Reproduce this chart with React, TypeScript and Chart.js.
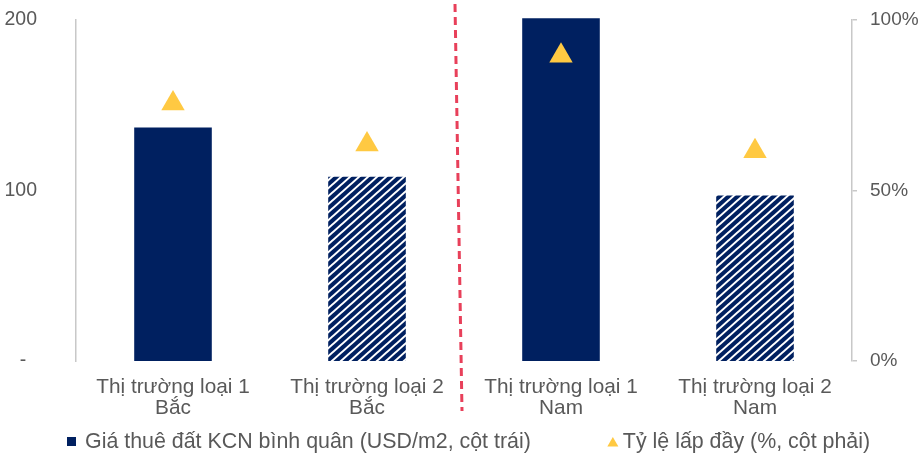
import React, { useEffect, useRef } from "react";
import { Chart, registerables } from "chart.js";

Chart.register(...registerables);

const categories: string[][] = [
  ["Thị trường loại 1", "Bắc"],
  ["Thị trường loại 2", "Bắc"],
  ["Thị trường loại 1", "Nam"],
  ["Thị trường loại 2", "Nam"],
];
const rentValues: number[] = [137, 108, 201, 97];
const occupancyValues: number[] = [0.755, 0.635, 0.895, 0.615];
const hatched: boolean[] = [false, true, false, true];
const rentLabel = "Giá thuê đất KCN bình quân (USD/m2, cột trái)";
const occLabel = "Tỷ lệ lấp đầy (%, cột phải)";
const leftTicks: number[] = [0, 100, 200];
const rightTicks: number[] = [0, 0.5, 1];

const NAVY = "#002060";
const GOLD = "#FFC942";
const TEXT = "#595959";
const AXIS = "#C8C8C8";
const FONT = "'Liberation Sans', Arial, sans-serif";

function makeHatch(): CanvasPattern | string {
  const tile = document.createElement("canvas");
  const w = 9;
  const h = 8;
  tile.width = w;
  tile.height = h;
  const c = tile.getContext("2d");
  if (!c) return NAVY;
  c.fillStyle = NAVY;
  c.fillRect(0, 0, w, h);
  c.strokeStyle = "#ffffff";
  c.lineWidth = 2.0;
  c.beginPath();
  for (let k = 0; k <= 2; k++) {
    const xa = -2;
    const xb = w + 2;
    c.moveTo(xa, h * (k - xa / w));
    c.lineTo(xb, h * (k - xb / w));
  }
  c.stroke();
  const p = document.createElement("canvas").getContext("2d")!.createPattern(tile, "repeat");
  return p || NAVY;
}

const dividerPlugin = {
  id: "divider",
  afterDatasetsDraw(chart: any) {
    const { ctx, scales, chartArea } = chart;
    const x = scales.x;
    const mid = (x.getPixelForValue(1) + x.getPixelForValue(2)) / 2;
    ctx.save();
    ctx.strokeStyle = "#E8405A";
    ctx.lineWidth = 3;
    ctx.setLineDash([8, 5]);
    ctx.beginPath();
    ctx.moveTo(mid - 9, chartArea.top - 16);
    ctx.lineTo(mid - 2, chartArea.bottom + 50);
    ctx.stroke();
    ctx.restore();
  },
};

const legendPlugin = {
  id: "customLegend",
  afterDraw(chart: any) {
    const { ctx, chartArea } = chart;
    const ds = chart.data.datasets;
    const bar = ds.find((d: any) => d.type === "bar");
    const line = ds.find((d: any) => d.type === "line");
    const y = chartArea.bottom + 81;
    ctx.save();
    ctx.font = `21.4px ${FONT}`;
    ctx.textBaseline = "middle";
    const x1 = chartArea.left - 9;
    ctx.fillStyle = NAVY;
    ctx.fillRect(x1, y - 5, 9, 9);
    ctx.fillStyle = TEXT;
    ctx.fillText(bar.label, x1 + 18, y);
    const x2 = x1 + 18 + ctx.measureText(bar.label).width + 77;
    ctx.fillStyle = GOLD;
    ctx.beginPath();
    ctx.moveTo(x2 + 5, y - 5);
    ctx.lineTo(x2 + 10.5, y + 4.5);
    ctx.lineTo(x2 - 0.5, y + 4.5);
    ctx.closePath();
    ctx.fill();
    ctx.fillStyle = TEXT;
    ctx.fillText(line.label, x2 + 15, y);
    ctx.restore();
  },
};

export default function App() {
  const ref = useRef<HTMLCanvasElement | null>(null);

  useEffect(() => {
    if (!ref.current) return;
    const hatch = makeHatch();
    const barColors = hatched.map((h) => (h ? hatch : NAVY));
    const chart = new Chart(ref.current, {
      type: "bar",
      data: {
        labels: categories,
        datasets: [
          {
            type: "bar",
            label: rentLabel,
            data: rentValues,
            yAxisID: "y",
            backgroundColor: barColors as any,
            borderWidth: 0,
            barPercentage: 0.4,
            categoryPercentage: 1,
            clip: false as any,
            order: 1,
          },
          {
            type: "line",
            label: occLabel,
            data: occupancyValues,
            yAxisID: "y1",
            showLine: false,
            pointStyle: "triangle",
            pointRadius: 13.5,
            pointHoverRadius: 13.5,
            backgroundColor: GOLD,
            borderColor: GOLD,
            borderWidth: 0,
            order: 0,
          } as any,
        ] as any,
      },
      options: {
        animation: false,
        responsive: true,
        maintainAspectRatio: false,
        layout: { padding: { top: 20, left: 0, right: 0, bottom: 0 } },
        plugins: { legend: { display: false }, tooltip: { enabled: false } },
        scales: {
          x: {
            grid: { display: false, drawTicks: false },
            border: { display: false },
            ticks: {
              color: TEXT,
              font: { family: FONT, size: 20.8, lineHeight: 1.01 },
              padding: 16,
              maxRotation: 0,
              autoSkip: false,
            },
            afterFit(scale: any) {
              scale.height = 96;
            },
          },
          y: {
            position: "left",
            min: 0,
            max: 200,
            afterBuildTicks(scale: any) {
              scale.ticks = leftTicks.map((v) => ({ value: v }));
            },
            grid: { display: false, drawTicks: false },
            border: { display: true, color: AXIS, width: 1.5 },
            ticks: {
              color: TEXT,
              font: { family: FONT, size: 19.5 },
              padding: 39,
              callback: (v: any) => (Number(v) === 0 ? "-  " : String(v)),
            },
            afterFit(scale: any) {
              scale.width = 76;
              scale.paddingTop = 10;
              scale.paddingBottom = 10;
            },
          },
          y1: {
            position: "right",
            min: 0,
            max: 1,
            afterBuildTicks(scale: any) {
              scale.ticks = rightTicks.map((v) => ({ value: v }));
            },
            grid: { display: true, drawOnChartArea: false, drawTicks: true, tickLength: 5, color: AXIS, lineWidth: 1.5 },
            border: { display: true, color: AXIS, width: 1.5 },
            ticks: {
              color: TEXT,
              font: { family: FONT, size: 19 },
              padding: 13,
              callback: (v: any) => `${Math.round(Number(v) * 100)}%`,
            },
            afterFit(scale: any) {
              scale.width = 69;
              scale.paddingTop = 10;
              scale.paddingBottom = 10;
            },
          },
        },
      },
      plugins: [dividerPlugin, legendPlugin],
    });
    return () => chart.destroy();
  }, []);

  return (
    <div style={{ position: "absolute", left: 0, top: 0, width: 921, height: 457, background: "#fff" }}>
      <canvas ref={ref} />
    </div>
  );
}
